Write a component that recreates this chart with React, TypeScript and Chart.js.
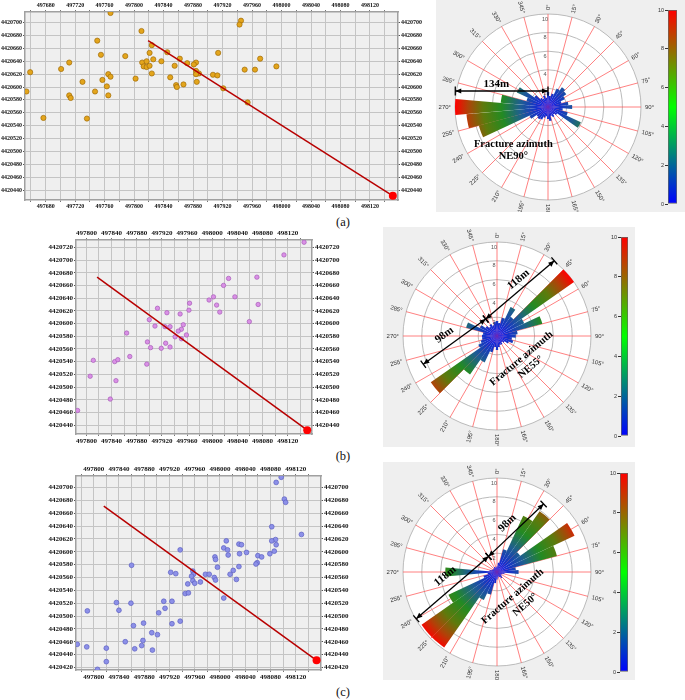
import React, { useEffect, useRef } from "react";
import { Chart, registerables } from "chart.js";
Chart.register(...registerables);

const SERIF = '"Liberation Serif", "Times New Roman", serif';
const SANS = '"Liberation Sans", Arial, sans-serif';

// ---------- (a) microseismic events ----------
const aX = [497768, 497945, 497943, 497810, 497750, 497755, 497788, 497824, 497821, 497845, 497914, 497826, 497862, 497971, 497811, 497817, 497837, 497872, 497884, 497881, 497712, 497813, 497817, 497821, 497855, 497993, 497950, 497964, 497701, 497659, 497824, 497884, 497888, 497884, 497765, 497768, 497907, 497913, 497849, 497757, 497802, 497730, 497885, 497857, 497858, 497867, 497921, 497763, 497654, 497747, 497712, 497714, 497765, 497954, 497677, 497736];
const aY = [4420715, 4420703, 4420697, 4420687, 4420672, 4420650, 4420648, 4420665, 4420653, 4420654, 4420653, 4420643, 4420644, 4420644, 4420638, 4420640, 4420640, 4420637, 4420638, 4420635, 4420638, 4420632, 4420631, 4420633, 4420633, 4420632, 4420627, 4420627, 4420628, 4420623, 4420621, 4420625, 4420621, 4420620, 4420620, 4420616, 4420619, 4420618, 4420615, 4420611, 4420613, 4420608, 4420608, 4420603, 4420600, 4420604, 4420598, 4420601, 4420593, 4420593, 4420587, 4420583, 4420587, 4420576, 4420552, 4420551];
const aWellX = [497819, 498151];
const aWellY = [4420672, 4420431];
const aXTicks = [497660, 497680, 497700, 497720, 497740, 497760, 497780, 497800, 497820, 497840, 497860, 497880, 497900, 497920, 497940, 497960, 497980, 498000, 498020, 498040, 498060, 498080, 498100, 498120, 498140];
const aYTicks = [4420440, 4420460, 4420480, 4420500, 4420520, 4420540, 4420560, 4420580, 4420600, 4420620, 4420640, 4420660, 4420680, 4420700];

// ---------- (b) ----------
const bX = [498146, 498114, 498026, 498071, 498018, 498036, 498002, 497995, 498007, 498073, 497964, 497963, 498012, 497913, 497928, 497949, 497900, 498059, 497909, 497954, 497925, 497933, 497951, 497946, 497959, 497864, 497941, 497951, 497897, 497926, 497902, 497919, 497933, 497869, 497811, 497845, 497850, 497896, 497806, 497847, 497838, 497786];
const bY = [4420728, 4420708, 4420671, 4420673, 4420660, 4420642, 4420642, 4420637, 4420629, 4420630, 4420632, 4420621, 4420618, 4420624, 4420617, 4420615, 4420606, 4420603, 4420596, 4420598, 4420595, 4420595, 4420591, 4420588, 4420582, 4420585, 4420579, 4420576, 4420571, 4420569, 4420562, 4420561, 4420563, 4420548, 4420542, 4420540, 4420543, 4420536, 4420517, 4420510, 4420481, 4420463];
const bWellX = [497817, 498151];
const bWellY = [4420673, 4420432];
const bXTicks = [497800, 497820, 497840, 497860, 497880, 497900, 497920, 497940, 497960, 497980, 498000, 498020, 498040, 498060, 498080, 498100, 498120, 498140];
const bYTicks = [4420440, 4420460, 4420480, 4420500, 4420520, 4420540, 4420560, 4420580, 4420600, 4420620, 4420640, 4420660, 4420680, 4420700, 4420720];

// ---------- (c) ----------
const cX = [498097, 498089, 498102, 498104, 498082, 498129, 498088, 498082, 498010, 498030, 498034, 498089, 497937, 498006, 498012, 498042, 498031, 498013, 498079, 498086, 498060, 498066, 497992, 497993, 498059, 498057, 497860, 497996, 498030, 497922, 497930, 497957, 497958, 497977, 497983, 498021, 498016, 497955, 497969, 497991, 497993, 498026, 497957, 497960, 497949, 497945, 497950, 498006, 497836, 497859, 497911, 497924, 497790, 497840, 497913, 497903, 497937, 497924, 497863, 497879, 497892, 497901, 497850, 497878, 497876, 497774, 497789, 497820, 497865, 497893, 497820, 497806];
const cY = [4420716, 4420708, 4420682, 4420677, 4420639, 4420627, 4420619, 4420617, 4420617, 4420612, 4420611, 4420611, 4420603, 4420606, 4420603, 4420599, 4420597, 4420595, 4420597, 4420601, 4420594, 4420592, 4420592, 4420588, 4420583, 4420581, 4420579, 4420576, 4420577, 4420568, 4420566, 4420570, 4420565, 4420565, 4420565, 4420571, 4420565, 4420562, 4420553, 4420560, 4420556, 4420557, 4420555, 4420551, 4420550, 4420535, 4420536, 4420528, 4420521, 4420520, 4420523, 4420523, 4420508, 4420509, 4420512, 4420505, 4420492, 4420488, 4420485, 4420489, 4420474, 4420471, 4420460, 4420462, 4420454, 4420456, 4420452, 4420450, 4420449, 4420447, 4420429, 4420417];
const cWellX = [497816, 498153];
const cWellY = [4420671, 4420431];
const cXTicks = [497780, 497800, 497820, 497840, 497860, 497880, 497900, 497920, 497940, 497960, 497980, 498000, 498020, 498040, 498060, 498080, 498100, 498120, 498140];
const cYTicks = [4420420, 4420440, 4420460, 4420480, 4420500, 4420520, 4420540, 4420560, 4420580, 4420600, 4420620, 4420640, 4420660, 4420680, 4420700];

// ---------- rose diagrams: 10-degree bins centred on 0,10,...,350 ----------
const roseBins = [0, 10, 20, 30, 40, 50, 60, 70, 80, 90, 100, 110, 120, 130, 140, 150, 160, 170, 180, 190, 200, 210, 220, 230, 240, 250, 260, 270, 280, 290, 300, 310, 320, 330, 340, 350];
const roseA = [1.6, 1.2, 1.5, 2.2, 2.6, 2.4, 2.0, 1.5, 2.2, 2.6, 1.6, 2.2, 3.9, 1.2, 1.0, 1.2, 1.0, 1.5, 1.3, 1.0, 1.2, 1.5, 1.6, 1.5, 2.2, 7.7, 8.8, 10, 5.1, 2.4, 3.7, 1.8, 1.2, 1.0, 1.3, 1.0];
const roseB = [1.6, 1.4, 2.0, 3.4, 2.5, 10, 3.2, 5.0, 2.2, 2.0, 1.6, 1.8, 1.4, 1.0, 0.8, 1.0, 1.0, 1.2, 1.5, 1.2, 1.8, 3.1, 5.0, 8.6, 2.2, 1.8, 1.6, 1.6, 1.5, 3.4, 2.0, 1.5, 1.2, 1.4, 1.2, 1.5];
const roseC = [0.6, 1.0, 2.5, 6.6, 7.9, 3.0, 9.1, 6.6, 2.0, 2.3, 0.8, 0.6, 0.5, 0.6, 0.8, 0.6, 0.5, 0.6, 0.8, 1.2, 2.5, 3.3, 9.8, 9.8, 5.7, 1.5, 1.0, 5.5, 0.8, 0.6, 0.5, 0.5, 0.5, 0.6, 0.5, 0.5];
const roseAngleLabels = [0, 15, 30, 45, 60, 75, 90, 105, 120, 135, 150, 165, 180, 195, 210, 225, 240, 255, 270, 285, 300, 315, 330, 345];
const roseRingLabels = [2, 4, 6, 8, 10];
const colorbarRange = [0, 10];

// ---------- helpers ----------
type Note =
  | { kind: "arrow"; u1: number; v1: number; u2: number; v2: number }
  | { kind: "text"; text: string; u: number; v: number; rot: number; size: number };

function ChartBox(props: { left: number; top: number; width: number; height: number; make: () => any }) {
  const ref = useRef<HTMLCanvasElement>(null);
  useEffect(() => {
    const chart = new Chart(ref.current as HTMLCanvasElement, props.make());
    return () => chart.destroy();
  }, []);
  return (
    <canvas
      ref={ref}
      width={props.width}
      height={props.height}
      style={{ position: "absolute", left: props.left, top: props.top, width: props.width, height: props.height }}
    />
  );
}

const plotBg = {
  id: "plotBg",
  beforeDraw(chart: any) {
    const { ctx, chartArea } = chart;
    ctx.save();
    ctx.fillStyle = "#EFEFEF";
    ctx.fillRect(chartArea.left, chartArea.top, chartArea.right - chartArea.left, chartArea.bottom - chartArea.top);
    ctx.restore();
  },
};

function scatterConfig(o: {
  xs: number[]; ys: number[]; wellX: number[]; wellY: number[];
  xTicks: number[]; yTicks: number[];
  xMin: number; xMax: number; yMin: number; yMax: number;
  fill: string; stroke: string; radius: number; font: number;
  leftW: number; rightW: number; topH: number; botH: number;
}) {
  const pts = o.xs.map((x, i) => ({ x, y: o.ys[i] }));
  const well = o.wellX.map((x, i) => ({ x, y: o.wellY[i] }));
  const font = { family: SERIF, size: o.font, weight: "bold" as const };
  const xAxis = (pos: string, h: number, onArea: boolean) => ({
    type: "linear", position: pos, min: o.xMin, max: o.xMax,
    afterBuildTicks: (s: any) => { s.ticks = o.xTicks.map((v) => ({ value: v })); },
    afterFit: (s: any) => { s.height = h; },
    ticks: { font, color: "#111", padding: 1, autoSkip: false, maxRotation: 0, minRotation: 0, callback: (v: any) => (v % 40 === 0 ? String(v) : "") },
    grid: { color: "#C4C4C4", lineWidth: 1, drawOnChartArea: onArea, tickLength: 2, tickColor: "#777" },
    border: { color: "#A0A0A0", width: 1.5 },
  });
  const yAxis = (pos: string, w: number, onArea: boolean) => ({
    type: "linear", position: pos, min: o.yMin, max: o.yMax,
    afterBuildTicks: (s: any) => { s.ticks = o.yTicks.map((v) => ({ value: v })); },
    afterFit: (s: any) => { s.width = w; },
    ticks: { font, color: "#111", padding: 1, autoSkip: false, callback: (v: any) => String(v) },
    grid: { color: "#C4C4C4", lineWidth: 1, drawOnChartArea: onArea, tickLength: 2, tickColor: "#555" },
    border: { color: "#A0A0A0", width: 1.5 },
  });
  return {
    type: "scatter",
    data: {
      datasets: [
        { data: [well[well.length - 1]], pointRadius: 4, backgroundColor: "#FF0000", borderColor: "#E00000", borderWidth: 0, xAxisID: "x", yAxisID: "y" },
        { data: well, showLine: true, borderColor: "#B80000", borderWidth: 1.5, pointRadius: 0, xAxisID: "x", yAxisID: "y" },
        { data: pts, pointRadius: o.radius, backgroundColor: o.fill, borderColor: o.stroke, borderWidth: 0.7, xAxisID: "x", yAxisID: "y" },
      ],
    },
    options: {
      responsive: false, animation: false,
      layout: { padding: 0 },
      plugins: { legend: { display: false }, tooltip: { enabled: false } },
      scales: {
        x: xAxis("bottom", o.botH, true),
        x2: xAxis("top", o.topH, false),
        y: yAxis("left", o.leftW, true),
        y2: yAxis("right", o.rightW, false),
      },
    },
    plugins: [plotBg],
  };
}

function petalFill(ctx: any) {
  const chart = ctx.chart;
  const r = chart.scales && chart.scales.r;
  if (!r || !r.drawingArea) return "#0000FF";
  const g = chart.ctx.createRadialGradient(r.xCenter, r.yCenter, 0, r.xCenter, r.yCenter, r.drawingArea);
  g.addColorStop(0, "#1010F5");
  g.addColorStop(0.3, "#1E5E90");
  g.addColorStop(0.5, "#238A22");
  g.addColorStop(0.7, "#5E7A0C");
  g.addColorStop(0.86, "#B04208");
  g.addColorStop(1, "#FF0000");
  return g;
}

function drawArrow(ctx: CanvasRenderingContext2D, x1: number, y1: number, x2: number, y2: number) {
  const a = Math.atan2(y2 - y1, x2 - x1);
  ctx.save();
  ctx.strokeStyle = "#000";
  ctx.fillStyle = "#000";
  ctx.lineWidth = 1.3;
  ctx.beginPath();
  ctx.moveTo(x1, y1);
  ctx.lineTo(x2, y2);
  ctx.stroke();
  const head = (x: number, y: number, an: number) => {
    const L = 6, W = 2.6;
    ctx.beginPath();
    ctx.moveTo(x, y);
    ctx.lineTo(x - L * Math.cos(an) + W * Math.sin(an), y - L * Math.sin(an) - W * Math.cos(an));
    ctx.lineTo(x - L * Math.cos(an) - W * Math.sin(an), y - L * Math.sin(an) + W * Math.cos(an));
    ctx.closePath();
    ctx.fill();
  };
  head(x2, y2, a);
  head(x1, y1, a + Math.PI);
  const bar = (x: number, y: number) => {
    ctx.beginPath();
    ctx.moveTo(x - 4.5 * Math.sin(a), y + 4.5 * Math.cos(a));
    ctx.lineTo(x + 4.5 * Math.sin(a), y - 4.5 * Math.cos(a));
    ctx.stroke();
  };
  bar(x1, y1);
  bar(x2, y2);
  ctx.restore();
}

function roseDecor(notes: Note[]) {
  return {
    id: "roseDecor",
    beforeDraw(chart: any) {
      const { ctx, width, height } = chart;
      const r = chart.scales.r;
      ctx.save();
      ctx.fillStyle = "#EFEFEF";
      ctx.fillRect(0, 0, width, height);
      ctx.fillStyle = "#FFFFFF";
      ctx.beginPath();
      ctx.arc(r.xCenter, r.yCenter, r.drawingArea, 0, Math.PI * 2);
      ctx.fill();
      ctx.restore();
    },
    beforeDatasetsDraw(chart: any) {
      const { ctx } = chart;
      const r = chart.scales.r;
      ctx.save();
      ctx.strokeStyle = "rgba(255,80,80,0.8)";
      ctx.lineWidth = 0.9;
      roseAngleLabels.forEach((deg) => {
        const phi = ((deg - 90) * Math.PI) / 180;
        ctx.beginPath();
        ctx.moveTo(r.xCenter, r.yCenter);
        ctx.lineTo(r.xCenter + r.drawingArea * Math.cos(phi), r.yCenter + r.drawingArea * Math.sin(phi));
        ctx.stroke();
      });
      ctx.restore();
    },
    afterDatasetsDraw(chart: any) {
      const { ctx } = chart;
      const r = chart.scales.r;
      const R = r.drawingArea;
      const unit = R / 10;
      ctx.save();
      ctx.font = `5.5px ${SANS}`;
      ctx.fillStyle = "#555";
      ctx.textAlign = "center";
      ctx.textBaseline = "middle";
      roseRingLabels.forEach((v) => {
        const d = r.getDistanceFromCenterForValue(v);
        ctx.fillText(String(v), r.xCenter - 3, r.yCenter - d + 5);
      });
      ctx.font = `6px ${SANS}`;
      ctx.fillStyle = "#333";
      roseAngleLabels.forEach((deg) => {
        const phi = ((deg - 90) * Math.PI) / 180;
        const d = R + 4;
        const x = r.xCenter + d * Math.cos(phi);
        const y = r.yCenter + d * Math.sin(phi);
        ctx.save();
        ctx.translate(x, y);
        if (deg <= 180) {
          ctx.rotate(((deg - 90) * Math.PI) / 180);
          ctx.textAlign = "left";
        } else {
          ctx.rotate(((deg - 270) * Math.PI) / 180);
          ctx.textAlign = "right";
        }
        ctx.textBaseline = "middle";
        ctx.fillText(`${deg}°`, 0, 0);
        ctx.restore();
      });
      notes.forEach((n) => {
        if (n.kind === "arrow") {
          drawArrow(ctx, r.xCenter + n.u1 * unit, r.yCenter - n.v1 * unit, r.xCenter + n.u2 * unit, r.yCenter - n.v2 * unit);
        } else {
          ctx.save();
          ctx.translate(r.xCenter + n.u * unit, r.yCenter - n.v * unit);
          ctx.rotate((n.rot * Math.PI) / 180);
          ctx.font = `bold ${n.size}px ${SERIF}`;
          ctx.fillStyle = "#000";
          ctx.textAlign = "center";
          ctx.textBaseline = "middle";
          ctx.fillText(n.text, 0, 0);
          ctx.restore();
        }
      });
      ctx.restore();
    },
  };
}

function roseConfig(values: number[], padding: any, notes: Note[]) {
  return {
    type: "polarArea",
    data: {
      labels: roseBins.map((b) => `${b}°`),
      datasets: [{ data: values, backgroundColor: petalFill, borderWidth: 0 }],
    },
    options: {
      responsive: false, animation: false,
      layout: { padding },
      plugins: { legend: { display: false }, tooltip: { enabled: false } },
      scales: {
        r: {
          min: 0, max: 10, startAngle: -5,
          ticks: { display: false, stepSize: 2 },
          grid: { circular: true, color: "#BBBBBB", lineWidth: 1 },
          angleLines: { display: false },
          pointLabels: { display: false },
        },
      },
    },
    plugins: [roseDecor(notes)],
  };
}

function colorbarFill(ctx: any) {
  const chart = ctx.chart;
  const a = chart.chartArea;
  if (!a) return "#00FF00";
  const g = chart.ctx.createLinearGradient(0, a.bottom, 0, a.top);
  g.addColorStop(0, "#0000FF");
  g.addColorStop(0.5, "#00FF00");
  g.addColorStop(1, "#FF0000");
  return g;
}

function colorbarConfig(axisW: number, padding: any) {
  return {
    type: "bar",
    data: {
      labels: [""],
      datasets: [{ data: [colorbarRange], backgroundColor: colorbarFill, borderColor: "#666", borderWidth: 1, borderSkipped: false, barPercentage: 1, categoryPercentage: 1 }],
    },
    options: {
      responsive: false, animation: false,
      layout: { padding },
      plugins: { legend: { display: false }, tooltip: { enabled: false } },
      scales: {
        x: { display: false },
        y: {
          min: 0, max: 10,
          afterFit: (s: any) => { s.width = axisW; },
          ticks: { stepSize: 2, font: { family: SANS, size: 5.5 }, color: "#333", padding: 1 },
          grid: { drawOnChartArea: false, tickLength: 3, tickColor: "#333" },
          border: { display: false },
        },
      },
    },
  };
}

const notesA: Note[] = [
  { kind: "arrow", u1: -9.97, v1: 1.72, u2: 0, v2: 1.72 },
  { kind: "text", text: "134m", u: -5.56, v: 2.45, rot: 0, size: 11 },
  { kind: "text", text: "Fracture azimuth", u: -3.73, v: -4.0, rot: 0, size: 10.5 },
  { kind: "text", text: "NE90°", u: -3.73, v: -5.3, rot: 0, size: 10.5 },
];
const notesB: Note[] = [
  { kind: "arrow", u1: -1.2, v1: 1.8, u2: 6.1, v2: 8.0 },
  { kind: "arrow", u1: -1.2, v1: 1.8, u2: -7.84, v2: -3.0 },
  { kind: "text", text: "118m", u: 2.3, v: 6.0, rot: -40, size: 11 },
  { kind: "text", text: "98m", u: -5.6, v: 0.1, rot: -36, size: 11 },
  { kind: "text", text: "Fracture azimuth", u: 2.6, v: -2.4, rot: -40, size: 10.5 },
  { kind: "text", text: "NE55°", u: 3.6, v: -3.3, rot: -40, size: 10.5 },
];
const notesC: Note[] = [
  { kind: "arrow", u1: -0.9, v1: 1.66, u2: 4.96, v2: 7.23 },
  { kind: "arrow", u1: -0.9, v1: 1.66, u2: -8.59, v2: -4.97 },
  { kind: "text", text: "98m", u: 1.1, v: 5.2, rot: -44, size: 11 },
  { kind: "text", text: "118m", u: -5.5, v: -0.45, rot: -40, size: 11 },
  { kind: "text", text: "Fracture azimuth", u: 1.66, v: -2.6, rot: -41, size: 10.5 },
  { kind: "text", text: "NE50°", u: 3.0, v: -3.5, rot: -41, size: 10.5 },
];

const captionStyle = (top: number): React.CSSProperties => ({
  position: "absolute", left: 323, top, width: 40, textAlign: "center",
  fontFamily: SERIF, fontSize: 12.5, color: "#111", lineHeight: "14px",
});

export default function App() {
  return (
    <div style={{ position: "absolute", left: 0, top: 0, width: 685, height: 700, background: "#fff", overflow: "hidden" }}>
      <ChartBox left={0} top={0} width={432} height={212} make={() => scatterConfig({
        xs: aX, ys: aY, wellX: aWellX, wellY: aWellY, xTicks: aXTicks, yTicks: aYTicks,
        xMin: 497652, xMax: 498158, yMin: 4420424.5, yMax: 4420716.5,
        fill: "#E3A51C", stroke: "#A06C08", radius: 2.6, font: 6,
        leftW: 25, rightW: 34, topH: 12, botH: 12,
      })} />
      <ChartBox left={436} top={0} width={249} height={212} make={() => roseConfig(roseA, { left: 19, top: 14, right: 44, bottom: 12 }, notesA)} />
      <ChartBox left={645} top={0} width={40} height={212} make={() => colorbarConfig(23, { left: 0, top: 10, right: 8, bottom: 8 })} />
      <div style={captionStyle(215)}>(a)</div>

      <ChartBox left={40} top={226} width={310} height={222} make={() => scatterConfig({
        xs: bX, ys: bY, wellX: bWellX, wellY: bWellY, xTicks: bXTicks, yTicks: bYTicks,
        xMin: 497783.5, xMax: 498158.6, yMin: 4420426, yMax: 4420731.5,
        fill: "#DA90E6", stroke: "#A65CB8", radius: 2.2, font: 7,
        leftW: 36, rightW: 38, topH: 14, botH: 14,
      })} />
      <ChartBox left={383} top={227} width={252} height={220} make={() => roseConfig(roseB, { left: 20, top: 15, right: 44, bottom: 17 }, notesB)} />
      <ChartBox left={598} top={227} width={37} height={220} make={() => colorbarConfig(23, { left: 0, top: 10, right: 7, bottom: 11 })} />
      <div style={captionStyle(449)}>(b)</div>

      <ChartBox left={40} top={462} width={320} height={222} make={() => scatterConfig({
        xs: cX, ys: cY, wellX: cWellX, wellY: cWellY, xTicks: cXTicks, yTicks: cYTicks,
        xMin: 497772, xMax: 498160, yMin: 4420416, yMax: 4420718,
        fill: "#8C90E8", stroke: "#5B5FC2", radius: 2.4, font: 7,
        leftW: 36, rightW: 39, topH: 14, botH: 14,
      })} />
      <ChartBox left={383} top={462} width={252} height={218} make={() => roseConfig(roseC, { left: 20, top: 16, right: 44, bottom: 14 }, notesC)} />
      <ChartBox left={597} top={462} width={38} height={218} make={() => colorbarConfig(23, { left: 0, top: 11, right: 7, bottom: 8 })} />
      <div style={captionStyle(685)}>(c)</div>
    </div>
  );
}
